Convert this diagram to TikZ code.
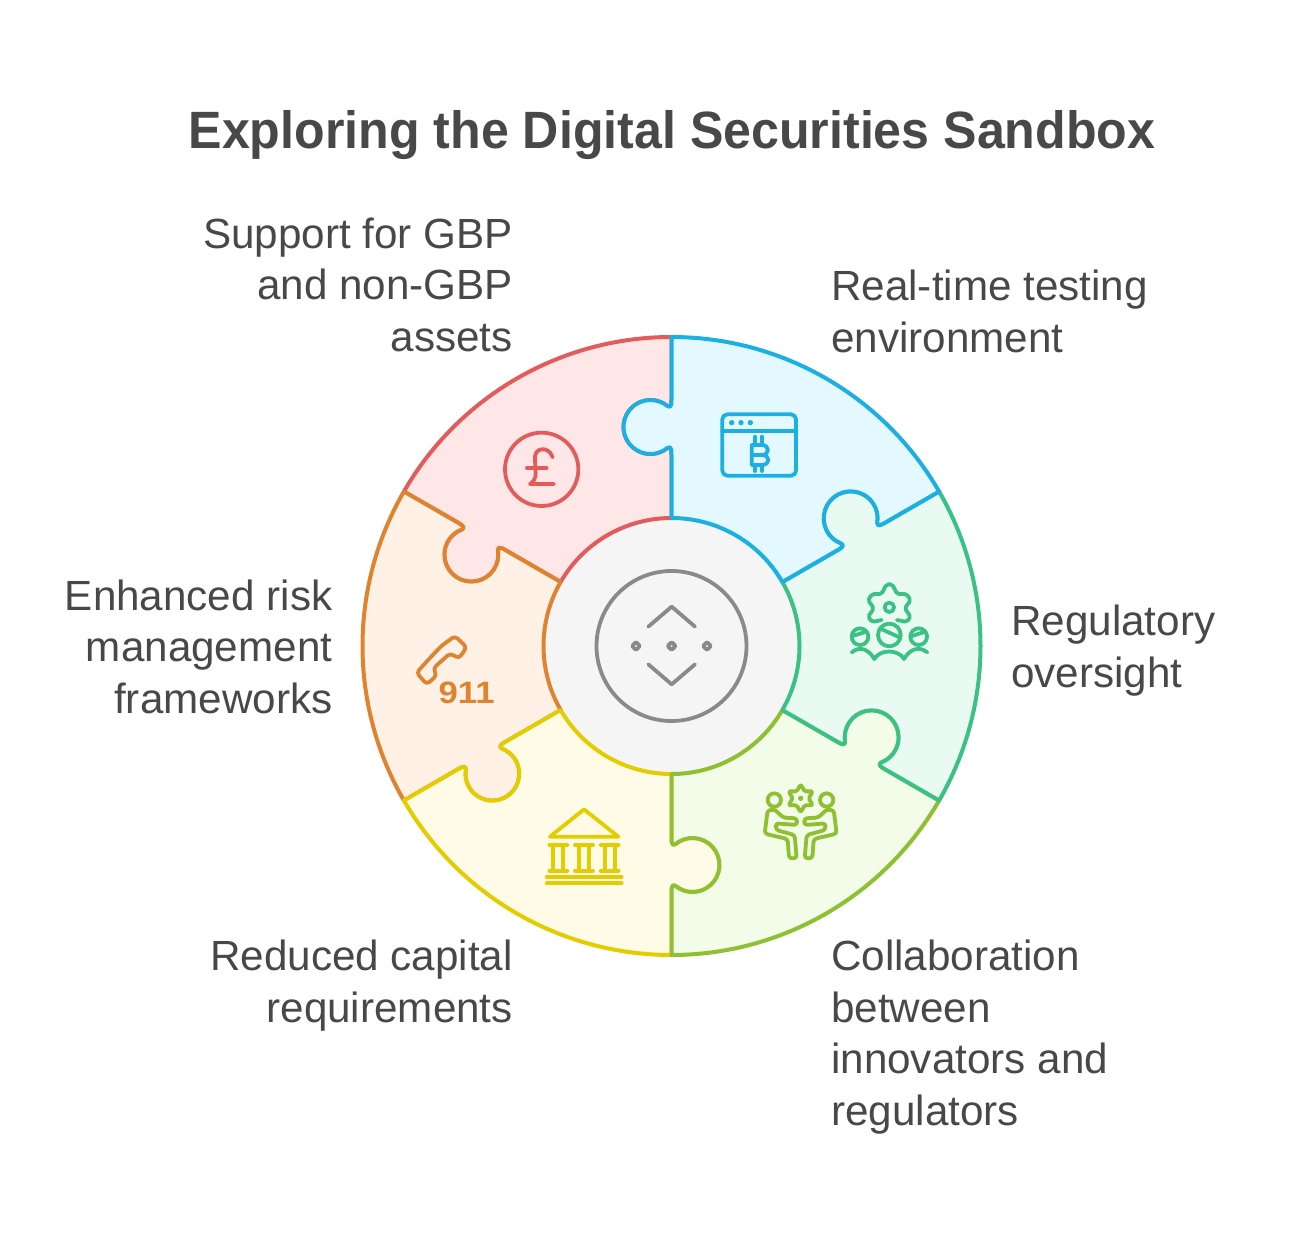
\documentclass[tikz,border=0pt]{standalone}
\usepackage{fontspec}
\setmainfont{Liberation Sans}
\newfontfamily\headfont[BoldFeatures={FakeStretch=0.955}]{Liberation Sans}
\newfontfamily\codefont[BoldFeatures={FakeStretch=1.12}]{Liberation Sans}
\usetikzlibrary{positioning}

\begin{document}
\begin{tikzpicture}[x=1pt, y=-1pt]
  \definecolor{inkcol}{HTML}{484848}
  \definecolor{hubcol}{HTML}{F5F5F5}
  \definecolor{ringcol}{HTML}{8A8A8A}
  \definecolor{redcol}{HTML}{E25C5C}
  \definecolor{redbg}{HTML}{FFE7E7}
  \definecolor{orangecol}{HTML}{DE8431}
  \definecolor{orangebg}{HTML}{FFF1E6}
  \definecolor{yellowcol}{HTML}{E3CD00}
  \definecolor{yellowbg}{HTML}{FFFBE6}
  \definecolor{olivecol}{HTML}{8FC031}
  \definecolor{olivebg}{HTML}{F3FBE9}
  \definecolor{greencol}{HTML}{3CC184}
  \definecolor{greenbg}{HTML}{E9FAF2}
  \definecolor{bluecol}{HTML}{1CB0E2}
  \definecolor{bluebg}{HTML}{E4F8FF}

  \tikzset{
    heading/.style={
      inner sep=0pt, anchor=base, text=inkcol,
      font=\fontsize{52.5}{60}\selectfont\headfont\bfseries
    },
    labelright/.style={
      inner sep=0pt, anchor=base west, align=left, text=inkcol,
      font=\fontsize{42.2}{51.5}\selectfont
    },
    labelleft/.style={
      inner sep=0pt, anchor=base east, align=right, text=inkcol,
      font=\fontsize{42.2}{51.5}\selectfont
    },
    piece/.style={
      draw=#1col, fill=#1bg, line width=4pt, line join=round
    },
    icon/.style={
      draw=#1col, line width=3.8pt, line cap=round, line join=round
    }
  }

  \useasboundingbox (0,0) rectangle (1292,1241);

  \node[heading] (title) at (672,149) {Exploring the Digital Securities Sandbox};

  \node[labelleft] (support) at (513,351) {Support for GBP\\and non-GBP\\assets};
  \node[labelright] (testing) at (831,352) {Real-time testing\\environment};
  \node[labelright] (oversight) at (1011,687) {Regulatory\\oversight};
  \node[labelleft] (risk) at (332.5,713) {Enhanced risk\\management\\frameworks};
  \node[labelleft] (capital) at (513,1022) {Reduced capital\\requirements};
  \node[labelright] (collab) at (831,1125) {Collaboration\\between\\innovators and\\regulators};

  \node[circle, fill=hubcol, minimum size=256pt, inner sep=0pt] (hub) at (671.5,646) {};
  \node[circle, draw=ringcol, line width=3.8pt, minimum size=150pt, inner sep=0pt] (ring) at (671.5,646) {};

  % the six puzzle pieces, each one with its knob on the higher angle
  \begin{scope}[shift={(671.5,646)}, x=1pt, y=1pt]
    \foreach \a/\c in {90/red, 150/orange, 210/yellow, 270/olive, 330/green, 30/blue} {
      \pgfmathsetmacro{\b}{\a+60}
      \draw[piece=\c]
        ([rotate=\a]128,0) -- ([rotate=\a]191,0)
        .. controls ([rotate=\a]201,0) and ([rotate=\a]200,1.5) .. ([rotate=\a]195.6,7.5)
        arc[start angle=\a+210, end angle=\a-30, radius=27]
        .. controls ([rotate=\a]238,1.5) and ([rotate=\a]237,0) .. ([rotate=\a]247,0)
        -- ([rotate=\a]309,0)
        arc[start angle=\a, end angle=\a+60, radius=309]
        -- ([rotate=\b]247,0)
        .. controls ([rotate=\b]237,0) and ([rotate=\b]238,1.5) .. ([rotate=\b]242.4,7.5)
        arc[start angle=\b-30, end angle=\b+210, radius=27]
        .. controls ([rotate=\b]200,1.5) and ([rotate=\b]201,0) .. ([rotate=\b]191,0)
        -- ([rotate=\b]128,0)
        arc[start angle=\a+60, end angle=\a, radius=128] -- cycle;
    }
  \end{scope}

  % hub icon
  \begin{scope}[shift={(590,565)}, scale=1/3]
    \draw[icon=ring] (175,185) -- (245,125) -- (315,185);
    \draw[icon=ring] (175,298) -- (245,358) -- (315,298);
    \foreach \x in {138,245,351}
      \draw[icon=ring, rounded corners=1pt] (\x-12,243) -- (\x,231) -- (\x+12,243) -- (\x,255) -- cycle;
  \end{scope}

  % pound
  \begin{scope}[shift={(480,330)}, scale=1/3]
    \draw[icon=red] (185,418) circle[radius=110];
    \draw[icon=red] (218,382) .. controls (212,362) and (195,356) .. (185,358)
      .. controls (170,360) and (163,372) .. (165,390) -- (167,430)
      .. controls (168,445) and (160,455) .. (150,462) -- (222,462);
    \draw[icon=red] (141,413) -- (200,413);
  \end{scope}

  % browser with coin
  \begin{scope}[shift={(480,330)}, scale=1/3]
    \draw[icon=blue, rounded corners=5pt] (727,253) rectangle (948,437);
    \draw[icon=blue] (727,302) -- (948,302);
    \foreach \x in {755,783,811}
      \fill[bluecol] (\x,278) circle[radius=8];
    \draw[icon=blue] (815,345) -- (845,345) .. controls (870,345) and (870,375) .. (845,375) -- (815,375);
    \draw[icon=blue] (845,375) .. controls (872,375) and (872,405) .. (845,405) -- (815,405) -- (815,345);
    \draw[icon=blue] (825,320) -- (825,345) (845,320) -- (845,345) (825,405) -- (825,423) (845,405) -- (845,423);
  \end{scope}

  % gear and people
  \begin{scope}[shift={(840,575)}, scale=1/3]
    \draw[icon=green] (148,97) circle[radius=14];
    \draw[icon=green, rounded corners=2pt] (125,135) -- (96,141) -- (84,125) -- (102,100) -- (84,76) -- (96,57) -- (125,57)
      -- (139,28) -- (157,28) -- (171,57) -- (200,57) -- (212,76) -- (194,100) -- (212,125) -- (200,141) -- (171,135);
    \draw[icon=green] (60,185) circle[radius=25] (148,180) circle[radius=34] (236,185) circle[radius=25];
    \draw[icon=green] (38,183) -- (78,170) (120,160) .. controls (140,170) and (160,178) .. (176,186) (216,183) -- (256,170);
    \draw[icon=green] (35,232) .. controls (60,212) and (85,222) .. (103,252)
      .. controls (120,222) and (175,222) .. (192,252)
      .. controls (210,222) and (236,212) .. (262,232);
  \end{scope}

  % two people with star
  \begin{scope}[shift={(755,775)}, scale=1/3]
    \draw[icon=olive] (58,75) circle[radius=20] (215,75) circle[radius=20];
    \fill[olivecol] (137,70) circle[radius=8];
    \draw[icon=olive, rounded corners=1.5pt] (137,70) +(90:42) -- +(60:24) -- +(30:42) -- +(0:24) -- +(-30:42) -- +(-60:24)
      -- +(-90:42) -- +(-120:24) -- +(-150:42) -- +(180:24) -- +(150:42) -- +(120:24) -- cycle;
    \draw[icon=olive, rounded corners=3pt] (60,105) -- (38,105) -- (29,176) -- (98,192) -- (102,250) -- (125,250) -- (119,180)
      -- (63,165) -- (62,145) -- (126,150) -- (126,130) -- (85,128) -- (60,105);
    \draw[icon=olive, rounded corners=3pt] (214,105) -- (236,105) -- (245,176) -- (176,192) -- (172,250) -- (149,250) -- (155,180)
      -- (211,165) -- (212,145) -- (148,150) -- (148,130) -- (189,128) -- (214,105);
  \end{scope}

  % bank
  \begin{scope}[shift={(530,700)}, scale=1/3]
    \draw[icon=yellow] (162,328) -- (60,410) -- (265,410) -- cycle;
    \foreach \x in {85,162,239} {
      \draw[icon=yellow] (\x-27,435) -- (\x+27,435) (\x-27,512) -- (\x+27,512);
      \draw[icon=yellow] (\x-15,435) -- (\x-15,512) (\x+15,435) -- (\x+15,512);
    }
    \draw[icon=yellow] (50,531) -- (275,531) (50,550) -- (275,550);
  \end{scope}

  % phone
  \begin{scope}[shift={(405,625)}, scale=1/3]
    \draw[icon=orange, rounded corners=3.5pt] (72,102) -- (110,62) -- (150,33) -- (185,67) -- (162,100) -- (135,85) -- (85,130)
      -- (95,152) -- (65,178) -- (35,143) -- cycle;
    \node[text=orangecol, font=\fontsize{31}{31}\selectfont\codefont\bfseries, inner sep=0pt, anchor=base] (emergency) at (185,235) {911};
  \end{scope}
\end{tikzpicture}
\end{document}
